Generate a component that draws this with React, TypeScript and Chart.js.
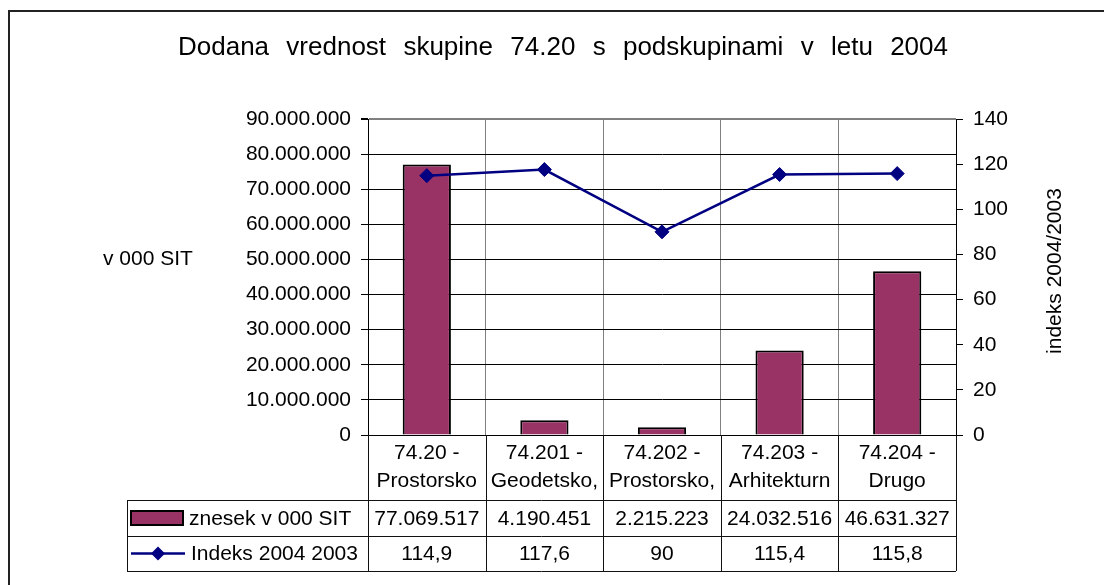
import React, { useEffect, useRef } from "react";
import { Chart, registerables } from "chart.js";

Chart.register(...registerables);

const TITLE = "Dodana vrednost skupine 74.20 s podskupinami v letu 2004";
const LEFT_TITLE = "v 000 SIT";
const RIGHT_TITLE = "indeks 2004/2003";
const BAR_LABEL = "znesek v 000 SIT";
const LINE_LABEL = "Indeks 2004 2003";

const categoryLines: string[][] = [
  ["74.20 -", "Prostorsko"],
  ["74.201 -", "Geodetsko,"],
  ["74.202 -", "Prostorsko,"],
  ["74.203 -", "Arhitekturn"],
  ["74.204 -", "Drugo"],
];
const znesek: number[] = [77069517, 4190451, 2215223, 24032516, 46631327];
const indeks: number[] = [114.9, 117.6, 90, 115.4, 115.8];

const LEFT_MAX = 90000000;
const LEFT_STEP = 10000000;
const RIGHT_MAX = 140;
const RIGHT_STEP = 20;

const BAR_COLOR = "#993366";
const LINE_COLOR = "#000080";
const FONT = '"Liberation Sans", Arial, sans-serif';

const fmtThousands = (n: number) =>
  String(Math.round(n)).replace(/\B(?=(\d{3})+(?!\d))/g, ".");
const fmtDec = (n: number) => String(n).replace(".", ",");

const drawDiamond = (ctx: CanvasRenderingContext2D, x: number, y: number, r: number) => {
  ctx.beginPath();
  ctx.moveTo(x, y - r);
  ctx.lineTo(x + r, y);
  ctx.lineTo(x, y + r);
  ctx.lineTo(x - r, y);
  ctx.closePath();
  ctx.fill();
};

const decorPlugin = {
  id: "decor",
  beforeDraw(chart: any) {
    const ctx: CanvasRenderingContext2D = chart.ctx;
    ctx.save();
    ctx.fillStyle = "#fff";
    ctx.fillRect(0, 0, chart.width, chart.height);
    ctx.strokeStyle = "#222";
    ctx.lineWidth = 2;
    ctx.strokeRect(9, 11, chart.width + 40, chart.height + 40);
    ctx.restore();
  },
  afterDraw(chart: any) {
    const ctx: CanvasRenderingContext2D = chart.ctx;
    const ca = chart.chartArea;
    const xs = chart.scales.x;
    ctx.save();
    ctx.fillStyle = "#000";

    // Title, words spread across the title box
    ctx.font = `26px ${FONT}`;
    ctx.textBaseline = "alphabetic";
    ctx.textAlign = "left";
    const words = TITLE.split(" ");
    const widths = words.map((w) => ctx.measureText(w).width);
    const wordsW = widths.reduce((a, b) => a + b, 0);
    const titleLeft = 178;
    const titleRight = 948;
    const gap = (titleRight - titleLeft - wordsW) / (words.length - 1);
    let tx = titleLeft;
    words.forEach((w, i) => {
      ctx.fillText(w, tx, 55);
      tx += widths[i] + gap;
    });

    // Axis titles
    ctx.font = `21px ${FONT}`;
    ctx.textBaseline = "middle";
    ctx.textAlign = "left";
    ctx.fillText(LEFT_TITLE, 103, 259);
    ctx.save();
    ctx.translate(1055, 271);
    ctx.rotate(-Math.PI / 2);
    ctx.textAlign = "center";
    ctx.fillText(RIGHT_TITLE, 0, 0);
    ctx.restore();

    // Data table
    const n = categoryLines.length;
    const colW = (ca.right - ca.left) / n;
    const r0 = ca.bottom;
    const r1 = r0 + 65;
    const r2 = r1 + 36;
    const r3 = r2 + 35;
    const tableLeft = 127;
    ctx.strokeStyle = "#111";
    ctx.lineWidth = 1;
    ctx.beginPath();
    for (let i = 0; i <= n; i++) {
      const x = Math.round(ca.left + i * colW) + 0.5;
      ctx.moveTo(x, r0);
      ctx.lineTo(x, r3);
    }
    [r1, r2, r3].forEach((y) => {
      const yy = Math.round(y) + 0.5;
      ctx.moveTo(tableLeft, yy);
      ctx.lineTo(ca.right, yy);
    });
    ctx.moveTo(tableLeft + 0.5, r1);
    ctx.lineTo(tableLeft + 0.5, r3);
    ctx.stroke();

    ctx.font = `21px ${FONT}`;
    ctx.textAlign = "center";
    ctx.textBaseline = "middle";
    ctx.fillStyle = "#000";
    categoryLines.forEach((lines, i) => {
      const cx = xs.getPixelForValue(i);
      ctx.fillText(lines[0], cx, r0 + 18);
      ctx.fillText(lines[1], cx, r0 + 46);
      ctx.fillText(fmtThousands(znesek[i]), cx, (r1 + r2) / 2 + 1);
      ctx.fillText(fmtDec(indeks[i]), cx, (r2 + r3) / 2 + 1);
    });

    // Legend keys
    const y2 = (r1 + r2) / 2;
    const y3 = (r2 + r3) / 2;
    ctx.fillStyle = BAR_COLOR;
    ctx.fillRect(131, y2 - 7, 52, 14);
    ctx.strokeStyle = "#000";
    ctx.lineWidth = 2;
    ctx.strokeRect(131, y2 - 7, 52, 14);
    ctx.strokeStyle = LINE_COLOR;
    ctx.lineWidth = 2.5;
    ctx.beginPath();
    ctx.moveTo(131, y3);
    ctx.lineTo(185, y3);
    ctx.stroke();
    ctx.fillStyle = LINE_COLOR;
    drawDiamond(ctx, 158, y3, 7);

    ctx.fillStyle = "#000";
    ctx.textAlign = "left";
    ctx.fillText(BAR_LABEL, 189, y2 + 1);
    ctx.fillText(LINE_LABEL, 191, y3 + 1);
    ctx.restore();
  },
};

export default function App() {
  const ref = useRef<HTMLCanvasElement | null>(null);
  useEffect(() => {
    document.body.style.margin = "0";
    if (!ref.current) return;
    const chart = new Chart(ref.current, {
      type: "bar",
      data: {
        labels: categoryLines.map((l) => l.join(" ")),
        datasets: [
          {
            type: "line",
            label: LINE_LABEL,
            data: indeks,
            yAxisID: "y1",
            borderColor: LINE_COLOR,
            borderWidth: 2.5,
            pointStyle: "rectRot",
            pointRadius: 7,
            pointBackgroundColor: LINE_COLOR,
            pointBorderColor: LINE_COLOR,
            pointBorderWidth: 1,
            tension: 0,
            order: 0,
          } as any,
          {
            type: "bar",
            label: BAR_LABEL,
            data: znesek,
            yAxisID: "y",
            backgroundColor: BAR_COLOR,
            borderColor: "#000",
            borderWidth: 2,
            barPercentage: 0.41,
            categoryPercentage: 1,
            order: 1,
          },
        ],
      },
      options: {
        animation: false,
        responsive: true,
        maintainAspectRatio: false,
        layout: { padding: { top: 119, left: 0, right: 0, bottom: 150 } },
        plugins: {
          legend: { display: false },
          tooltip: { enabled: false },
          title: { display: false },
        },
        scales: {
          x: {
            type: "category",
            offset: true,
            ticks: { display: false },
            grid: { color: "#808080", offset: true, drawTicks: false, lineWidth: 1 },
            border: { display: true, color: "#000", width: 1 },
            afterFit: (s: any) => {
              s.height = 0;
            },
          },
          y: {
            position: "left",
            min: 0,
            max: LEFT_MAX,
            ticks: {
              stepSize: LEFT_STEP,
              color: "#000",
              font: { family: FONT, size: 21 },
              padding: 10,
              callback: (v: any) => fmtThousands(Number(v)),
            },
            grid: {
              color: (c: any) => (c.tick && c.tick.value === LEFT_MAX ? "#808080" : "#000"),
              lineWidth: (c: any) => (c.tick && c.tick.value === LEFT_MAX ? 2 : 1),
              tickLength: 7,
              tickColor: "#000",
            },
            border: { display: true, color: "#000", width: 1 },
            afterFit: (s: any) => {
              s.width = 368;
            },
          },
          y1: {
            position: "right",
            min: 0,
            max: RIGHT_MAX,
            ticks: {
              stepSize: RIGHT_STEP,
              color: "#000",
              font: { family: FONT, size: 21 },
              padding: 10,
            },
            grid: { drawOnChartArea: false, tickLength: 7, color: "#000" },
            border: { display: true, color: "#000", width: 1 },
            afterFit: (s: any) => {
              s.width = 148;
            },
          },
        },
      },
      plugins: [decorPlugin],
    });
    return () => chart.destroy();
  }, []);
  return (
    <div style={{ width: 1104, height: 585, position: "relative" }}>
      <canvas ref={ref} />
    </div>
  );
}
